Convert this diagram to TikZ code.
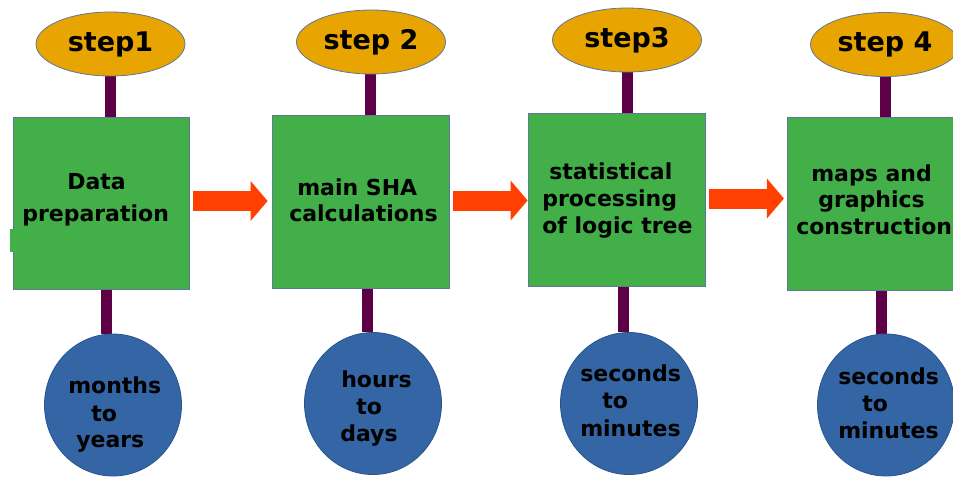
\documentclass[tikz,border=0pt]{standalone}
\usepackage{fontspec}
\setmainfont{DejaVu Sans}
\usetikzlibrary{arrows.meta,shapes.geometric,backgrounds}

\definecolor{steporange}{HTML}{E8A400}
\definecolor{boxgreen}{HTML}{42AF48}
\definecolor{stemviolet}{HTML}{5E0046}
\definecolor{timeblue}{HTML}{3465A4}
\definecolor{timeedge}{HTML}{2A5490}
\definecolor{flowred}{HTML}{FF4000}
\definecolor{edgegray}{HTML}{5F7893}

\begin{document}
\begin{tikzpicture}[x=0.75pt,y=-0.75pt,
  stepoval/.style={ellipse, fill=steporange, draw=edgegray, line width=0.6pt,
    minimum width=149*0.75pt, minimum height=64*0.75pt, inner sep=0pt,
    font=\fontsize{20.25pt}{24pt}\selectfont\bfseries},
  stagebox/.style={rectangle, fill=boxgreen, draw=edgegray, line width=0.6pt,
    minimum width=177*0.75pt, minimum height=173*0.75pt, inner sep=0pt},
  timedisc/.style={ellipse, fill=timeblue, draw=timeedge, line width=0.6pt,
    minimum width=137*0.75pt, minimum height=142*0.75pt, inner sep=0pt},
  txt/.style={anchor=base west, inner sep=0pt,
    font=\fontsize{16.5pt}{20pt}\selectfont\bfseries},
  stem/.style={draw=stemviolet, line width=8.25pt},
  flow/.style={draw=flowred, line width=15pt,
    -{Triangle[length=12.75pt, width=29.25pt]}, color=flowred}
]
\clip (0,0) rectangle (953,476);

% stem positions
\coordinate (u1) at (110.5,0);
\coordinate (u2) at (370.5,0);
\coordinate (u3) at (627,0);
\coordinate (u4) at (885,0);
\coordinate (d1) at (106.5,0);
\coordinate (d2) at (367,0);
\coordinate (d3) at (623,0);
\coordinate (d4) at (881.5,0);

% step ovals
\node[stepoval] (e1) at (110.5,44) {step1};
\node[stepoval] (e2) at (371,42) {step 2};
\node[stepoval] (e3) at (627,40) {step3};
\node[stepoval] (e4) at (885,44.5) {step 4};

% stage boxes
\node[stagebox, minimum width=176*0.75pt, minimum height=172*0.75pt] (b1) at (101,203) {};
\node[stagebox] (b2) at (360.5,201.5) {};
\node[stagebox] (b3) at (616.5,199.5) {};
\node[stagebox] (b4) at (875.5,203.5) {};

% time discs
\node[timedisc] (c1) at (113,405) {};
\node[timedisc] (c2) at (373,403.5) {};
\node[timedisc] (c3) at (629,403.5) {};
\node[timedisc] (c4) at (886,405) {};

% stems between ovals, boxes and discs, kept behind the shapes
\begin{pgfonlayer}{background}
\fill[white] (0,0) rectangle (953,476);
\draw[stem] (e1.south -| u1) -- (b1.north -| u1);
\draw[stem] (e2.south -| u2) -- (b2.north -| u2);
\draw[stem] (e3.south -| u3) -- (b3.north -| u3);
\draw[stem] (e4.south -| u4) -- (b4.north -| u4);
\draw[stem] (b1.south -| d1) -- (c1.north -| d1);
\draw[stem] (b2.south -| d2) -- (c2.north -| d2);
\draw[stem] (b3.south -| d3) -- (c3.north -| d3);
\draw[stem] (b4.south -| d4) -- (c4.north -| d4);
\end{pgfonlayer}

% small tab on the first box
\fill[boxgreen] (10,229) rectangle (13.5,252);

% flow arrows
\draw[flow] ([shift={(4,-2)}]b1.east) coordinate (s1) -- ([xshift=-3]s1 -| b2.west);
\draw[flow] ([shift={(4,-1)}]b2.east) coordinate (s2) -- (s2 -| b3.west);
\draw[flow] ([shift={(4,-1)}]b3.east) coordinate (s3) -- ([xshift=-2]s3 -| b4.west);

% box texts
\node[txt] (b1a) at (67,189) {Data};
\node[txt] (b1b) at (22,221) {preparation};
\node[txt] (b2a) at (297,195) {main SHA};
\node[txt] (b2b) at (289,221) {calculations};
\node[txt] (b3a) at (549,179) {statistical};
\node[txt] (b3b) at (542,206) {processing};
\node[txt] (b3c) at (542,233) {of logic tree};
\node[txt] (b4a) at (811,181) {maps and};
\node[txt] (b4b) at (818,207) {graphics};
\node[txt] (b4c) at (796,234) {construction};

% disc texts
\node[txt] (c1a) at (68,393) {months};
\node[txt] (c1b) at (91,421) {to};
\node[txt] (c1c) at (76,447) {years};
\node[txt] (c2a) at (341,387) {hours};
\node[txt] (c2b) at (356,414) {to};
\node[txt] (c2c) at (340,441) {days};
\node[txt] (c3a) at (580,381) {seconds};
\node[txt] (c3b) at (602,408) {to};
\node[txt] (c3c) at (580,436) {minutes};
\node[txt] (c4a) at (838,384) {seconds};
\node[txt] (c4b) at (862,411) {to};
\node[txt] (c4c) at (838,438) {minutes};
\end{tikzpicture}
\end{document}
